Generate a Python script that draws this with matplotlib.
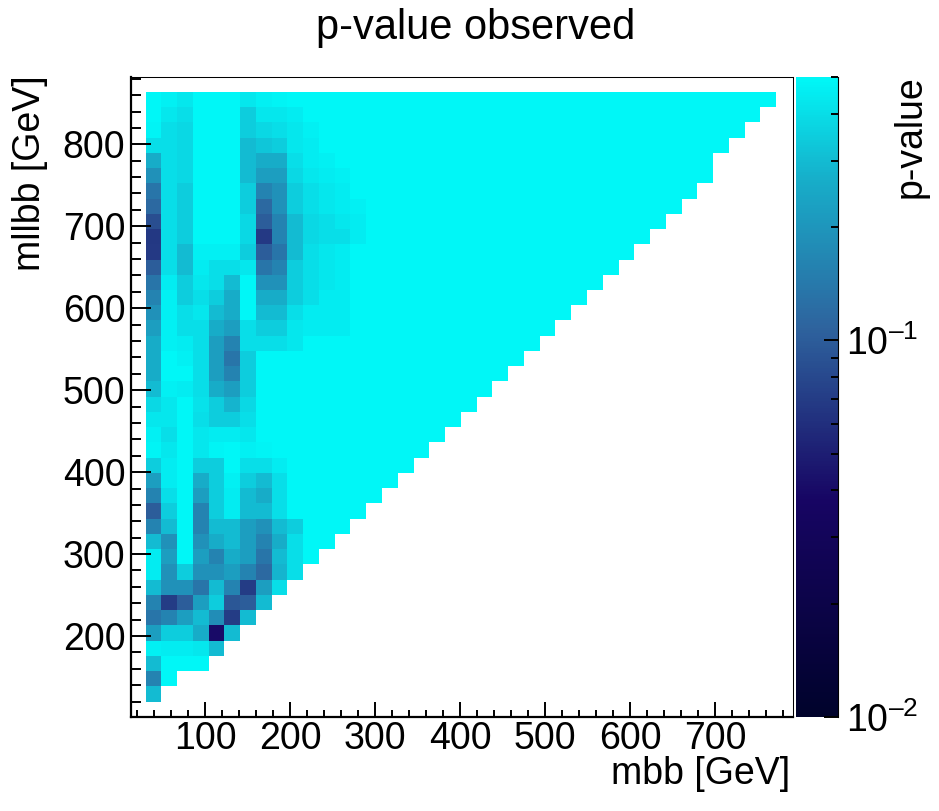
import numpy as np
import matplotlib
matplotlib.use('Agg')
import matplotlib.pyplot as plt
from matplotlib.colors import LinearSegmentedColormap, LogNorm
from matplotlib.ticker import FixedLocator, NullFormatter

plt.rcParams['font.family'] = ['Liberation Sans', 'DejaVu Sans']
plt.rcParams['mathtext.fontset'] = 'custom'
plt.rcParams['mathtext.rm'] = 'Liberation Sans'
plt.rcParams['mathtext.it'] = 'Liberation Sans:italic'
plt.rcParams['mathtext.bf'] = 'Liberation Sans:bold'

    # Binning (GeV)
mbb_edges = np.linspace(30, 772, 41)
mllbb_edges = np.linspace(120, 864, 41)

    # number of filled mbb bins in each mllbb row (bottom to top)
n_filled = [1, 2, 4, 5, 6, 7, 8, 9, 10, 11, 12, 13, 14, 15, 16, 17, 18, 19, 20, 21,
            22, 23, 24, 25, 26, 27, 28, 29, 30, 31, 32, 33, 34, 35, 36, 36, 37, 38, 39, 40]

    # p-values of the low-mbb bins in each row, the rest of the row sits at p_sat
p_sat = 0.5
p_rows = [
    [0.30],
    [0.16, 0.50],
    [0.30, 0.50, 0.50, 0.50],
    [0.47, 0.45, 0.45, 0.43, 0.30],
    [0.22, 0.35, 0.35, 0.26, 0.04, 0.30],
    [0.135, 0.16, 0.22, 0.30, 0.18, 0.07, 0.30],
    [0.16, 0.07, 0.10, 0.22, 0.35, 0.095, 0.10, 0.30],
    [0.30, 0.19, 0.19, 0.135, 0.30, 0.16, 0.07, 0.22, 0.40],
    [0.45, 0.19, 0.35, 0.19, 0.19, 0.22, 0.16, 0.115, 0.28, 0.40],
    [0.45, 0.22, 0.50, 0.22, 0.16, 0.26, 0.22, 0.135, 0.30, 0.40, 0.50],
    [0.30, 0.19, 0.50, 0.19, 0.26, 0.30, 0.22, 0.16, 0.26, 0.40, 0.50, 0.50],
    [0.16, 0.30, 0.50, 0.16, 0.30, 0.30, 0.22, 0.19, 0.30, 0.35, 0.50, 0.50, 0.50],
    [0.10, 0.35, 0.50, 0.16, 0.35, 0.45, 0.30, 0.30, 0.40],
    [0.16, 0.40, 0.50, 0.22, 0.35, 0.45, 0.30, 0.26, 0.40],
    [0.22, 0.45, 0.50, 0.26, 0.35, 0.47, 0.35, 0.30, 0.40],
    [0.35, 0.45, 0.50, 0.35, 0.35, 0.50, 0.40, 0.40, 0.45],
    [0.48, 0.43, 0.50, 0.43, 0.48, 0.50, 0.47, 0.48],
    [0.47, 0.40, 0.50, 0.43, 0.45, 0.45, 0.43],
    [0.43, 0.43, 0.50, 0.40, 0.35, 0.35, 0.40],
    [0.38, 0.43, 0.50, 0.41, 0.35, 0.28, 0.38],
    [0.30, 0.47, 0.45, 0.40, 0.26, 0.22, 0.35],
    [0.26, 0.50, 0.50, 0.40, 0.22, 0.16, 0.35],
    [0.26, 0.50, 0.47, 0.40, 0.22, 0.135, 0.35],
    [0.26, 0.47, 0.45, 0.40, 0.22, 0.16, 0.40, 0.40, 0.40, 0.43],
    [0.22, 0.47, 0.40, 0.40, 0.26, 0.22, 0.40, 0.35, 0.35, 0.43, 0.45, 0.45, 0.45],
    [0.19, 0.47, 0.40, 0.43, 0.30, 0.26, 0.50, 0.30, 0.30, 0.40, 0.45, 0.45, 0.45],
    [0.16, 0.47, 0.35, 0.40, 0.35, 0.26, 0.50, 0.26, 0.26, 0.35, 0.40, 0.45, 0.45],
    [0.135, 0.45, 0.35, 0.43, 0.40, 0.30, 0.50, 0.19, 0.19, 0.35, 0.40, 0.43, 0.45],
    [0.10, 0.40, 0.30, 0.45, 0.40, 0.40, 0.43, 0.135, 0.16, 0.35, 0.40, 0.43, 0.45],
    [0.068, 0.40, 0.30, 0.47, 0.47, 0.47, 0.35, 0.10, 0.135, 0.30, 0.40, 0.43, 0.45],
    [0.066, 0.40, 0.35, 0.50, 0.50, 0.50, 0.38, 0.068, 0.16, 0.30, 0.38, 0.40, 0.40, 0.45],
    [0.085, 0.40, 0.35, 0.50, 0.50, 0.50, 0.38, 0.10, 0.16, 0.30, 0.38, 0.40, 0.43, 0.45],
    [0.115, 0.40, 0.35, 0.50, 0.50, 0.50, 0.35, 0.115, 0.19, 0.35, 0.40, 0.43, 0.45, 0.47],
    [0.135, 0.40, 0.35, 0.50, 0.50, 0.50, 0.35, 0.16, 0.19, 0.35, 0.40, 0.43, 0.45],
    [0.19, 0.40, 0.38, 0.50, 0.50, 0.50, 0.30, 0.22, 0.22, 0.38, 0.43, 0.45, 0.47],
    [0.26, 0.40, 0.38, 0.50, 0.50, 0.50, 0.30, 0.26, 0.26, 0.40, 0.45, 0.47],
    [0.40, 0.40, 0.38, 0.50, 0.50, 0.50, 0.30, 0.33, 0.35, 0.43, 0.45],
    [0.48, 0.40, 0.38, 0.50, 0.50, 0.50, 0.35, 0.38, 0.40, 0.43, 0.47],
    [0.50, 0.43, 0.40, 0.50, 0.50, 0.50, 0.35, 0.43, 0.43, 0.45],
    [0.50, 0.47, 0.43, 0.50, 0.50, 0.50, 0.43, 0.47, 0.48],
]

Z = np.full((len(mllbb_edges) - 1, len(mbb_edges) - 1), np.nan)
for i, row in enumerate(p_rows):
    Z[i, :n_filled[i]] = p_sat
    Z[i, :len(row)] = row

    # ROOT "deep sea" palette
stops = [0.00, 0.34, 0.61, 0.84, 1.00]
red = [0.00, 0.09, 0.18, 0.09, 0.00]
green = [0.01, 0.02, 0.39, 0.68, 0.97]
blue = [0.17, 0.39, 0.62, 0.79, 0.97]
cmap = LinearSegmentedColormap.from_list(
    'deepsea', [(s, (r, g, b)) for s, r, g, b in zip(stops, red, green, blue)], N=255)

W, H = 939, 811
fig = plt.figure(figsize=(W/100, H/100), dpi=100)
ax = fig.add_axes([131/W, 1 - 717/H, (793 - 131)/W, (717 - 77)/H])

mesh = ax.pcolormesh(mbb_edges, mllbb_edges, np.ma.masked_invalid(Z), cmap=cmap,
                     norm=LogNorm(vmin=0.01, vmax=0.5), antialiased=False, edgecolors='none')

ax.set_xlim(12.9, 791.8)
ax.set_ylim(101.2, 882.1)

ax.xaxis.set_major_locator(FixedLocator(np.arange(100, 701, 100)))
ax.xaxis.set_minor_locator(FixedLocator(np.arange(20, 781, 20)))
ax.yaxis.set_major_locator(FixedLocator(np.arange(200, 801, 100)))
ax.yaxis.set_minor_locator(FixedLocator(np.arange(120, 881, 20)))

fs = 27
ax.tick_params(axis='both', which='both', direction='in', top=False, right=False,
               width=1.4, labelsize=fs)
ax.tick_params(axis='x', which='major', length=10.8, pad=3)
ax.tick_params(axis='x', which='minor', length=5.4)
ax.tick_params(axis='y', which='major', length=14.4, pad=4)
ax.tick_params(axis='y', which='minor', length=7.2)

for s in ['left', 'bottom']:
    ax.spines[s].set_linewidth(1.6)
for s in ['top', 'right']:
    ax.spines[s].set_linewidth(0.75)

    # palette on the right
cax = fig.add_axes([796/W, 1 - 717/H, 42/W, 640/H])
cbar = fig.colorbar(mesh, cax=cax)
cbar.outline.set_visible(False)
cax.yaxis.set_ticks_position('right')
cax.yaxis.set_major_locator(FixedLocator([0.01, 0.1]))
cax.yaxis.set_minor_locator(FixedLocator([0.02, 0.03, 0.04, 0.05, 0.06, 0.07, 0.08, 0.09,
                                          0.2, 0.3, 0.4, 0.5]))
cax.yaxis.set_minor_formatter(NullFormatter())
cax.set_yticklabels([r'$\mathregular{10^{–2}}$', r'$\mathregular{10^{–1}}$'])
cax.tick_params(which='both', direction='in', width=1.4, labelsize=fs, pad=6)
cax.tick_params(which='major', length=10)
cax.tick_params(which='minor', length=5)
cax.plot([1, 1], [0.01, 0.5], color='black', lw=0.8, clip_on=False)

    # Titles
fig.text(476/W, 1 - 28/H, 'p-value observed', ha='center', va='center', fontsize=30)
fig.text(790/W, 1 - 774/H, 'mbb [GeV]', ha='right', va='center', fontsize=fs)
fig.text(30/W, 1 - 75/H, 'mllbb [GeV]', ha='center', va='top', rotation=90, fontsize=fs)
fig.text(911/W, 1 - 75/H, 'p-value', ha='center', va='top', rotation=90, fontsize=fs)

fig.savefig('out.png', dpi=100)
